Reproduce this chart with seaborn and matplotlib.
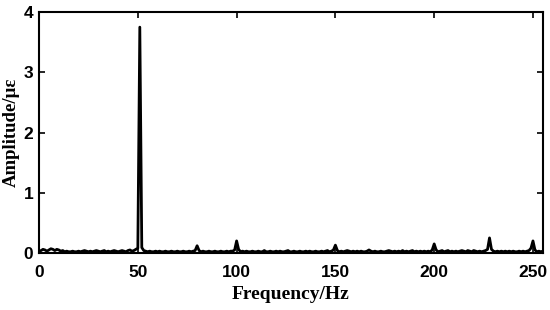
import numpy as np
import pandas as pd
import matplotlib
matplotlib.use("Agg")
import matplotlib.pyplot as plt
import seaborn as sns

# spectrum values, 1 Hz grid 0..256
freq_hz = np.arange(0, 257)
amplitude = [
    0.02, 0.04, 0.06, 0.05, 0.03, 0.05, 0.07, 0.06, 0.04, 0.06,
    0.05, 0.03, 0.04, 0.02, 0.03, 0.02, 0.02, 0.03, 0.02, 0.02,
    0.03, 0.02, 0.03, 0.04, 0.03, 0.02, 0.03, 0.02, 0.03, 0.04,
    0.03, 0.02, 0.03, 0.04, 0.02, 0.03, 0.02, 0.03, 0.04, 0.03,
    0.02, 0.03, 0.04, 0.03, 0.02, 0.04, 0.05, 0.03, 0.04, 0.06,
    0.08, 3.75, 0.09, 0.04, 0.03, 0.02, 0.03, 0.02, 0.02, 0.03,
    0.02, 0.03, 0.02, 0.02, 0.03, 0.02, 0.02, 0.03, 0.02, 0.02,
    0.03, 0.02, 0.02, 0.03, 0.02, 0.02, 0.03, 0.02, 0.03, 0.04,
    0.12, 0.04, 0.02, 0.03, 0.02, 0.02, 0.03, 0.02, 0.02, 0.03,
    0.02, 0.02, 0.03, 0.02, 0.02, 0.03, 0.02, 0.03, 0.03, 0.05,
    0.20, 0.06, 0.02, 0.03, 0.02, 0.03, 0.02, 0.02, 0.03, 0.02,
    0.02, 0.03, 0.02, 0.02, 0.04, 0.02, 0.02, 0.03, 0.02, 0.02,
    0.03, 0.02, 0.03, 0.02, 0.02, 0.03, 0.04, 0.02, 0.02, 0.03,
    0.02, 0.02, 0.03, 0.02, 0.02, 0.03, 0.02, 0.03, 0.02, 0.02,
    0.03, 0.02, 0.02, 0.03, 0.02, 0.03, 0.04, 0.02, 0.03, 0.05,
    0.13, 0.04, 0.02, 0.03, 0.02, 0.03, 0.04, 0.03, 0.02, 0.03,
    0.02, 0.03, 0.02, 0.03, 0.02, 0.02, 0.03, 0.05, 0.03, 0.02,
    0.03, 0.02, 0.02, 0.03, 0.02, 0.02, 0.03, 0.04, 0.03, 0.02,
    0.03, 0.02, 0.03, 0.02, 0.04, 0.02, 0.03, 0.02, 0.03, 0.04,
    0.02, 0.03, 0.02, 0.03, 0.02, 0.03, 0.02, 0.03, 0.02, 0.05,
    0.15, 0.05, 0.02, 0.03, 0.04, 0.02, 0.03, 0.04, 0.02, 0.03,
    0.02, 0.03, 0.02, 0.03, 0.04, 0.03, 0.02, 0.04, 0.03, 0.02,
    0.04, 0.03, 0.02, 0.03, 0.02, 0.03, 0.04, 0.06, 0.25, 0.06,
    0.03, 0.02, 0.03, 0.02, 0.03, 0.02, 0.03, 0.02, 0.03, 0.02,
    0.03, 0.02, 0.02, 0.03, 0.02, 0.03, 0.02, 0.03, 0.04, 0.08,
    0.20, 0.05, 0.02, 0.03, 0.02, 0.03, 0.02,
]
x_ticks = [0, 50, 100, 150, 200, 250]
y_ticks = [0, 1, 2, 3, 4]

sns.set_style("ticks")
plt.rcParams['font.family'] = ['Liberation Sans', 'DejaVu Sans']
plt.rcParams['xtick.direction'] = 'in'
plt.rcParams['ytick.direction'] = 'in'
plt.rcParams['text.color'] = 'black'
plt.rcParams['axes.labelcolor'] = 'black'
plt.rcParams['xtick.color'] = 'black'
plt.rcParams['ytick.color'] = 'black'
plt.rcParams['axes.edgecolor'] = 'black'

df = pd.DataFrame({"freq": freq_hz, "amp": amplitude})

fig = plt.figure(figsize=(5.5, 3.1), dpi=100)
ax = fig.add_axes([0.071, 0.184, 0.916, 0.777])
sns.lineplot(data=df, x="freq", y="amp", ax=ax, color="black", linewidth=2.0)

ax.set_xlim(0, 255)
ax.set_ylim(0, 4)
ax.set_xticks(x_ticks)
ax.set_yticks(y_ticks)
ax.tick_params(top=True, right=True, length=4, width=1.2, labelsize=12.5)
ax.tick_params(axis='x', pad=9)
ax.tick_params(axis='y', pad=4)
for lbl in ax.get_xticklabels() + ax.get_yticklabels():
    lbl.set_fontweight('bold')
for sp in ax.spines.values():
    sp.set_visible(True)
    sp.set_linewidth(1.5)

ax.set_xlabel("Frequency/Hz", family=['Liberation Serif', 'DejaVu Serif'],
              fontweight='bold', fontsize=14, labelpad=4)
ax.set_ylabel("Amplitude/με", family=['Liberation Serif', 'DejaVu Serif'],
              fontweight='bold', fontsize=13.5, labelpad=3)

plt.savefig("out.png", dpi=100)
plt.close(fig)
